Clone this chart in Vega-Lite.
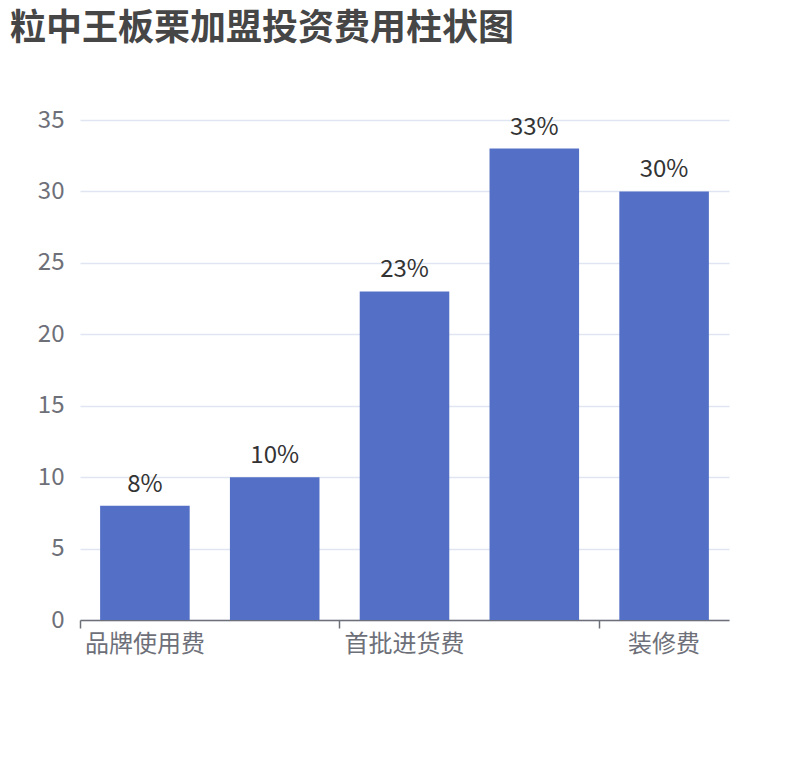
{
  "$schema": "https://vega.github.io/schema/vega-lite/v6.json",
  "autosize": "none",
  "width": 649,
  "height": 500,
  "padding": {"left": 80, "top": 120, "right": 81, "bottom": 140},
  "background": "white",
  "title": {
    "text": "粒中王板栗加盟投资费用柱状图",
    "anchor": "start",
    "frame": "group",
    "dx": -70,
    "offset": 32,
    "baseline": "alphabetic",
    "font": "Noto Sans CJK SC",
    "fontSize": 36,
    "fontWeight": "bold",
    "color": "#464646"
  },
  "data": {
    "values": [
      {"项目": "品牌使用费", "费用": 8, "标签": "8%"},
      {"项目": "加盟费", "费用": 10, "标签": "10%"},
      {"项目": "首批进货费", "费用": 23, "标签": "23%"},
      {"项目": "店铺租金", "费用": 33, "标签": "33%"},
      {"项目": "装修费", "费用": 30, "标签": "30%"}
    ]
  },
  "config": {
    "view": {"stroke": null},
    "font": "Noto Sans CJK SC"
  },
  "encoding": {
    "x": {
      "field": "项目",
      "type": "nominal",
      "sort": null,
      "scale": {"paddingInner": 0.31, "paddingOuter": 0.155},
      "axis": {
        "title": null,
        "labelAngle": 0,
        "values": ["品牌使用费", "首批进货费", "装修费"],
        "bandPosition": -0.224,
        "labelBound": false,
        "labelFlush": false,
        "labelOverlap": false,
        "labelFont": "Noto Sans CJK SC",
        "labelFontSize": 24,
        "labelColor": "#6e7079",
        "labelPadding": 4,
        "domainColor": "#6e7079",
        "domainWidth": 1.5,
        "ticks": true,
        "tickColor": "#6e7079",
        "tickWidth": 1.5,
        "tickSize": 8,
        "grid": false
      }
    },
    "y": {
      "field": "费用",
      "type": "quantitative",
      "scale": {"domain": [0, 35]},
      "axis": {
        "title": null,
        "values": [0, 5, 10, 15, 20, 25, 30, 35],
        "domain": false,
        "ticks": false,
        "labelFontSize": 24,
        "labelColor": "#6e7079",
        "labelPadding": 16,
        "gridColor": "#e0e6f1",
        "gridWidth": 1.5
      }
    }
  },
  "layer": [
    {"mark": {"type": "bar", "color": "#5470c6"}},
    {
      "mark": {"type": "text", "baseline": "bottom", "dy": -9, "fontSize": 24, "color": "#333333"},
      "encoding": {"text": {"field": "标签"}}
    }
  ]
}
